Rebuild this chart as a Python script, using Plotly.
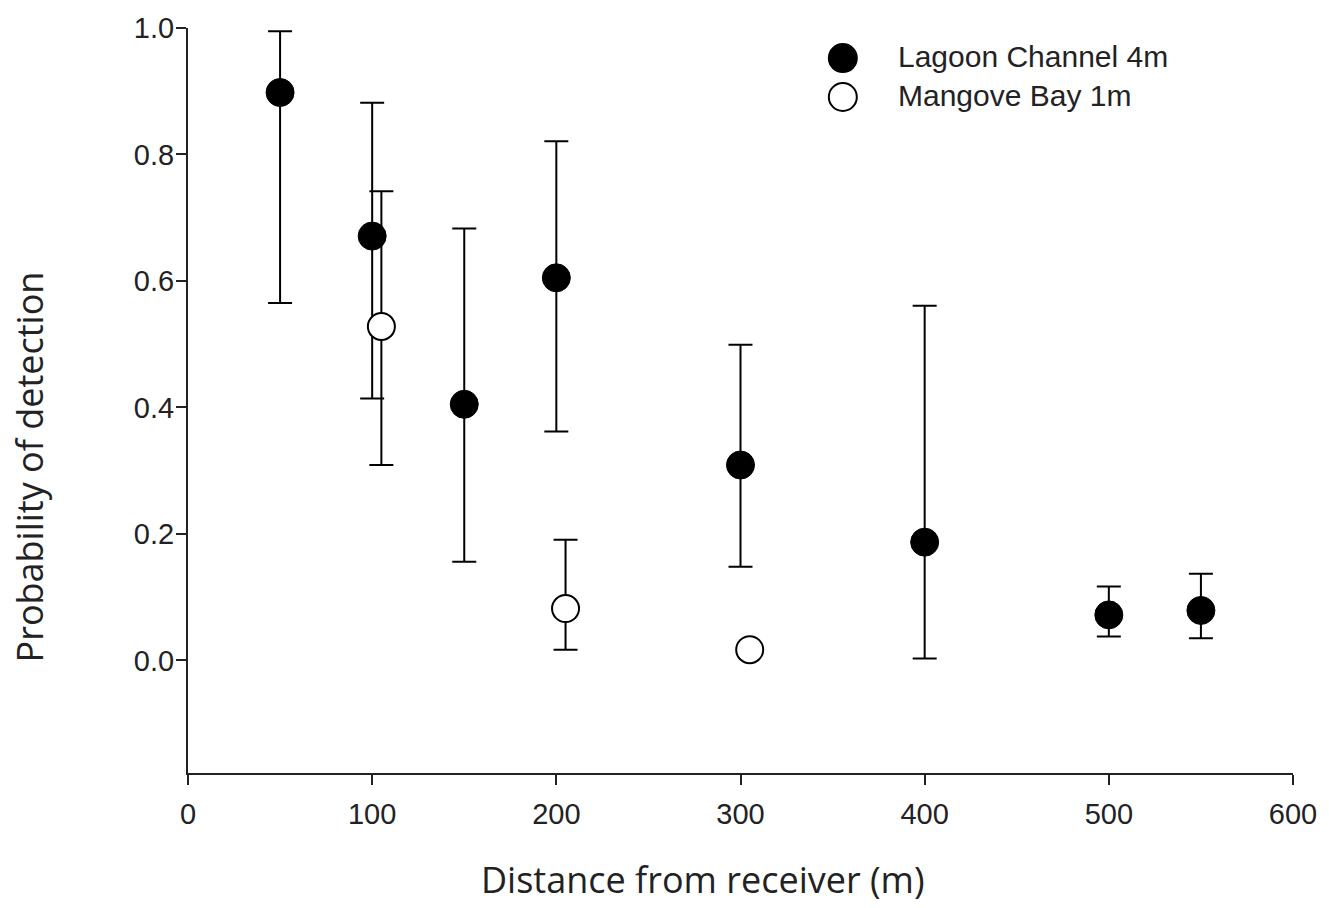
import plotly.graph_objects as go

# Lagoon Channel 4m
lc_x = [50, 100, 150, 200, 300, 400, 500, 550]
lc_y = [0.898, 0.671, 0.405, 0.605, 0.309, 0.187, 0.072, 0.079]
lc_hi = [0.995, 0.882, 0.683, 0.821, 0.499, 0.561, 0.117, 0.137]
lc_lo = [0.565, 0.414, 0.156, 0.362, 0.148, 0.003, 0.038, 0.035]

# Mangove Bay 1m
mb_x = [105, 205, 305]
mb_y = [0.528, 0.082, 0.017]
mb_hi = [0.742, 0.191, 0.017]
mb_lo = [0.309, 0.017, 0.017]

x_ticks = [0, 100, 200, 300, 400, 500, 600]
y_ticks = [0.0, 0.2, 0.4, 0.6, 0.8, 1.0]
series_names = ["Lagoon Channel 4m", "Mangove Bay 1m"]

def plus(v, hi):
    return [h - y for y, h in zip(v, hi)]

def minus(v, lo):
    return [y - l for y, l in zip(v, lo)]

fig = go.Figure()
fig.add_trace(go.Scatter(
    x=lc_x, y=lc_y, mode="markers", name=series_names[0], showlegend=False,
    marker=dict(size=28, color="black", line=dict(color="black", width=1)),
    error_y=dict(type="data", symmetric=False, array=plus(lc_y, lc_hi),
                 arrayminus=minus(lc_y, lc_lo), color="black", thickness=2, width=12),
))
fig.add_trace(go.Scatter(
    x=mb_x, y=mb_y, mode="markers", name=series_names[1], showlegend=False,
    marker=dict(size=27, color="white", line=dict(color="black", width=2)),
    error_y=dict(type="data", symmetric=False, array=plus(mb_y, mb_hi),
                 arrayminus=minus(mb_y, mb_lo), color="black", thickness=2, width=12),
))

tick_font = dict(family="Liberation Sans, Arial, sans-serif", size=29, color="#222")
title_font = dict(family="Open Sans, sans-serif", size=36, color="#222")
legend_font = dict(family="Liberation Sans, Arial, sans-serif", size=30, color="#222")

# manual legend (larger symbols than plotly's legend allows)
leg_sym_x = 0.5926
leg_txt_x = 0.6403
leg_rows_y = [0.9597, 0.9074]
leg_fill = ["black", "white"]
for name, yy, fill in zip(series_names, leg_rows_y, leg_fill):
    fig.add_shape(type="circle", xref="paper", yref="paper",
                  xsizemode="pixel", ysizemode="pixel",
                  xanchor=leg_sym_x, yanchor=yy, x0=-14, x1=14, y0=-14, y1=14,
                  fillcolor=fill, line=dict(color="black", width=2))
    fig.add_annotation(text=name, xref="paper", yref="paper", x=leg_txt_x, y=yy + 0.002,
                       xanchor="left", yanchor="middle", showarrow=False, font=legend_font)

# axis titles
fig.add_annotation(text="Distance from receiver (m)", xref="paper", yref="paper",
                   x=0.4663, y=-0.1436, xanchor="center", yanchor="middle",
                   showarrow=False, font=title_font)
fig.add_annotation(text="Probability of detection", xref="paper", yref="paper",
                   x=-0.143, y=0.4114, xanchor="center", yanchor="middle", textangle=-90,
                   showarrow=False, font=title_font)

fig.update_layout(
    width=1329, height=908,
    margin=dict(l=188, r=29, t=28, b=135),
    paper_bgcolor="white", plot_bgcolor="white",
    showlegend=False,
    xaxis=dict(range=[0, 600], tickvals=x_ticks, ticktext=[str(v) for v in x_ticks],
               showline=True, linecolor="#222", linewidth=2, ticks="outside",
               ticklen=10, tickwidth=2, tickcolor="#222", showgrid=False, zeroline=False,
               tickfont=tick_font, ticklabelstandoff=4),
    yaxis=dict(range=[-0.178, 1.0], tickvals=y_ticks, ticktext=[f"{v:.1f}" for v in y_ticks],
               showline=True, linecolor="#222", linewidth=2, ticks="outside",
               ticklen=10, tickwidth=2, tickcolor="#222", showgrid=False, zeroline=False,
               tickfont=tick_font, ticklabelstandoff=-4),
)

fig.write_html("out.html")
